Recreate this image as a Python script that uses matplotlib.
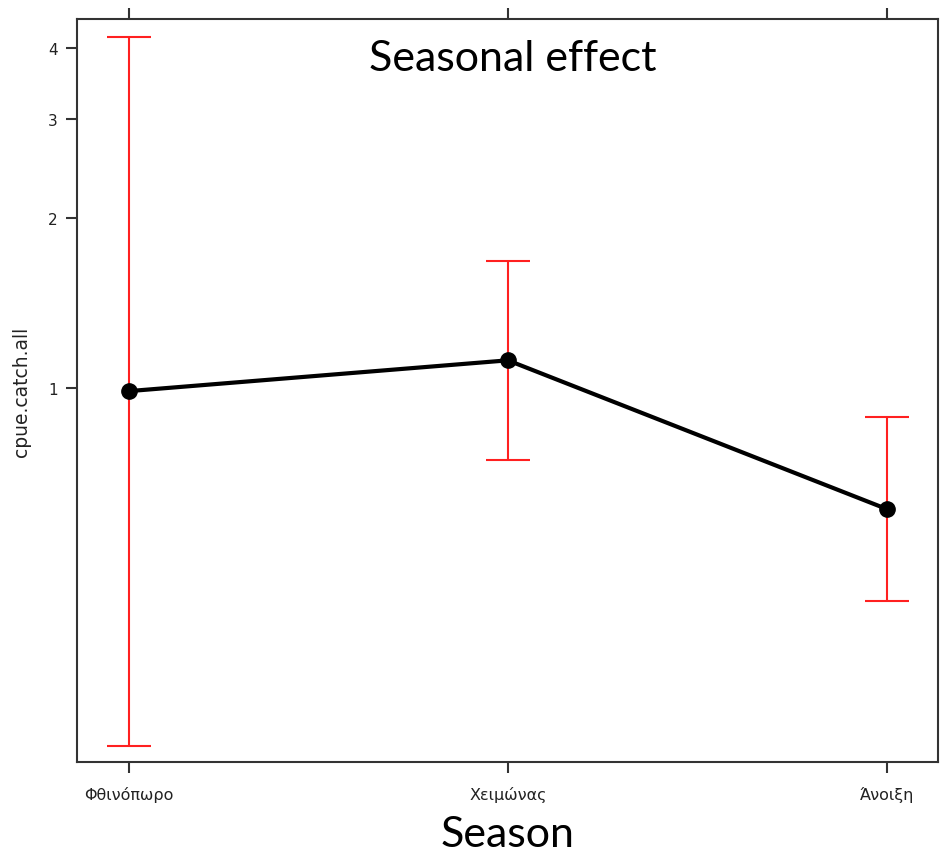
import matplotlib
matplotlib.use("Agg")
import matplotlib.pyplot as plt
from matplotlib.ticker import FixedLocator, NullLocator, FixedFormatter
import numpy as np

seasons = ["Φθινόπωρο", "Χειμώνας", "Άνοιξη"]
estimate = [0.988, 1.12, 0.611]
lower = [0.233, 0.746, 0.42]
upper = [4.18, 1.68, 0.888]
y_ticks = [1, 2, 3, 4]

fig = plt.figure(figsize=(9.4, 8.54), dpi=100)
ax = fig.add_axes([77 / 940, 1 - 763 / 854, (938 - 77) / 940, (763 - 20) / 854])

x = np.arange(len(seasons))
est = np.array(estimate)
yerr = np.vstack([est - np.array(lower), np.array(upper) - est])

ax.errorbar(x, est, yerr=yerr, fmt="none", ecolor="#ff2020", elinewidth=1.5,
            capsize=16, capthick=1.5, zorder=2)
ax.plot(x, est, color="black", lw=3, marker="o", ms=11, zorder=3)

ax.set_yscale("log")
ax.set_ylim(0.218, 4.50)
ax.set_xlim(-0.137, 2.135)

ax.yaxis.set_major_locator(FixedLocator(y_ticks))
ax.yaxis.set_major_formatter(FixedFormatter([str(t) for t in y_ticks]))
ax.yaxis.set_minor_locator(NullLocator())
ax.set_xticks(x)
ax.set_xticklabels(seasons, fontsize=11.5, family=["DejaVu Sans"])

for lab in ax.get_yticklabels():
    lab.set_fontsize(11)
    lab.set_family(["DejaVu Sans"])

ax.tick_params(axis="both", direction="out", length=8, width=1.5, color="#333333",
               labelcolor="#222222", pad=6)
ax.tick_params(axis="x", top=True, labeltop=False, pad=9)

for sp in ax.spines.values():
    sp.set_linewidth(1.5)
    sp.set_color("#333333")

ax.set_ylabel("cpue.catch.all", fontsize=13.5, family=["DejaVu Sans"],
              labelpad=12, color="#222222")
ax.set_xlabel("Season", fontsize=31, family=["Lato", "DejaVu Sans"], labelpad=10)
ax.text(0.506, 0.948, "Seasonal effect", transform=ax.transAxes, ha="center", va="center",
        fontsize=31, family=["Lato", "DejaVu Sans"])

fig.savefig("out.png", dpi=100)
